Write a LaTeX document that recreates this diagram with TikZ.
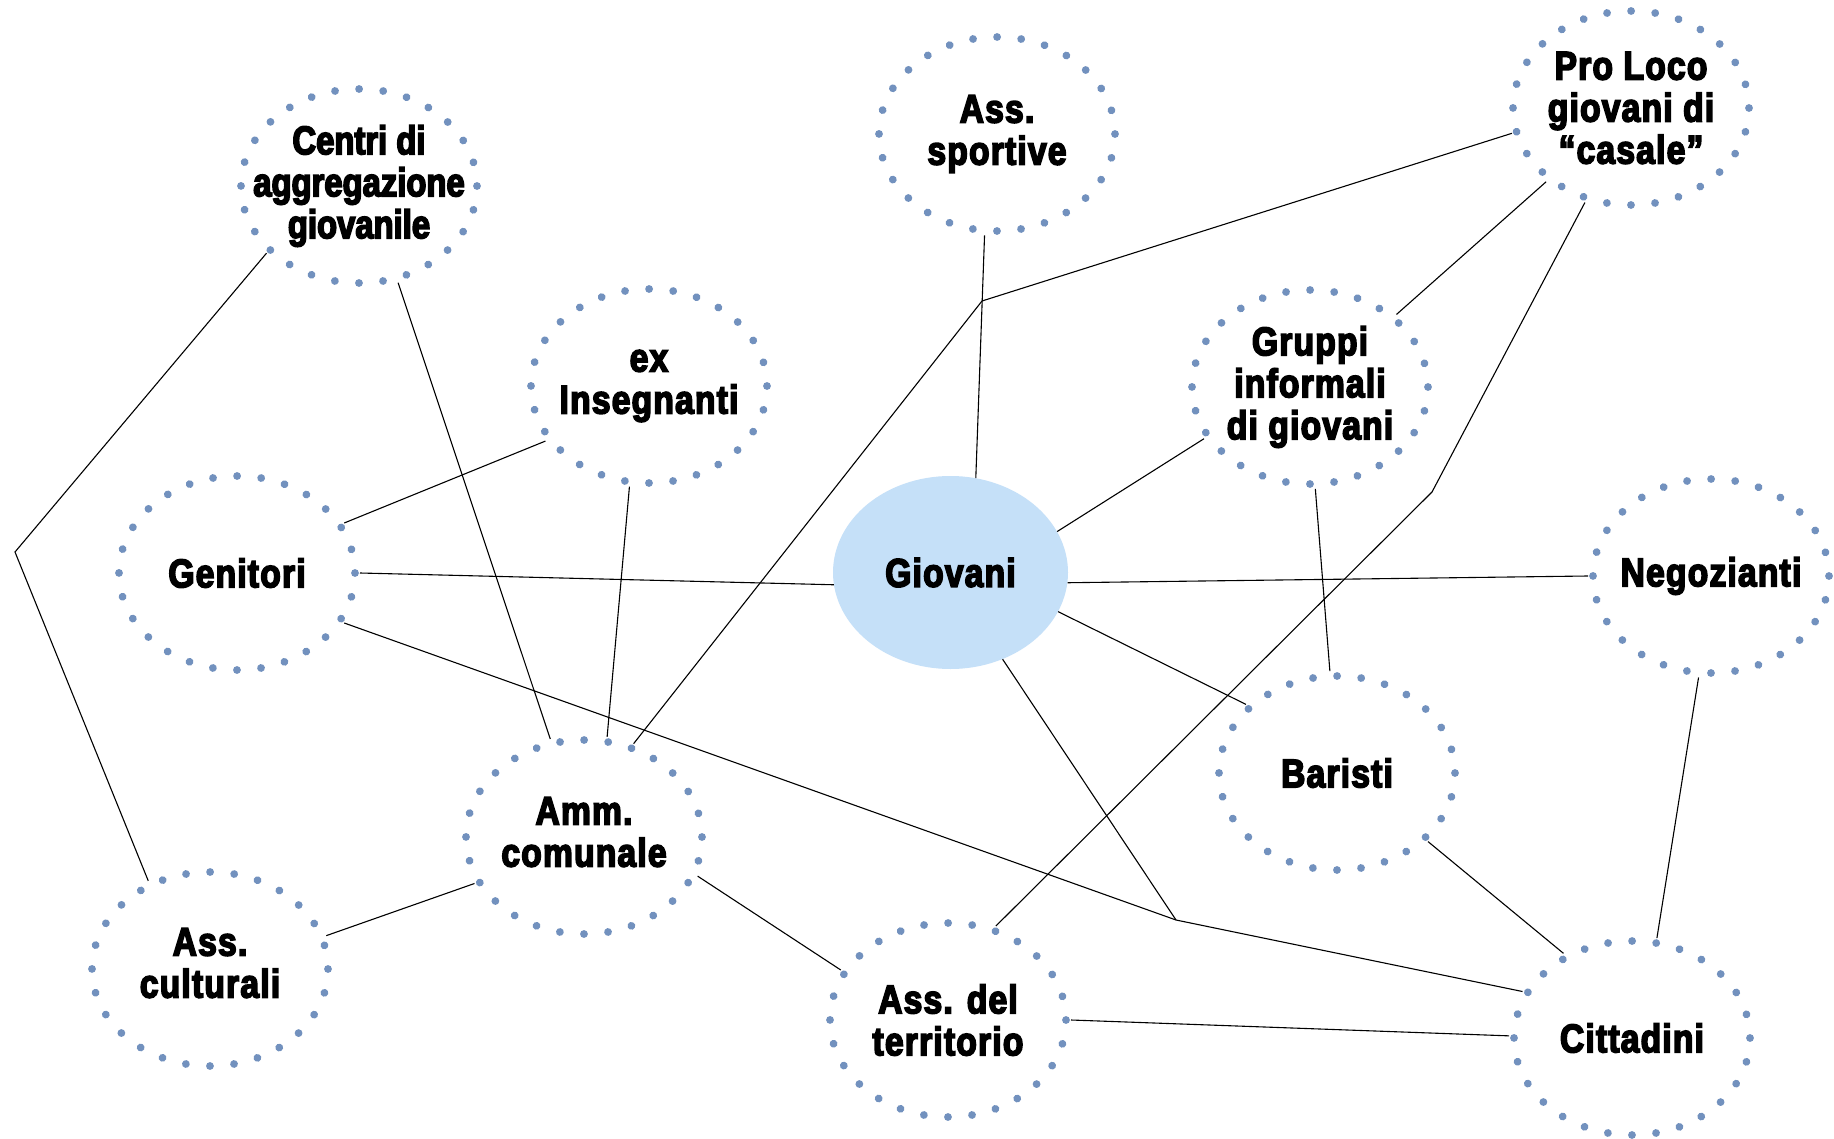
\documentclass[tikz,border=0pt]{standalone}
\usepackage{fontspec}
\newfontfamily\lblfont{Liberation Sans Bold}[FakeStretch=0.84,FakeBold=4,LetterSpace=3]
\newfontfamily\lblfonttight{Liberation Sans Bold}[FakeStretch=0.82,FakeBold=4]
\usetikzlibrary{shapes.geometric,decorations.markings}
\definecolor{dotblue}{RGB}{114,145,190}
\definecolor{youthfill}{RGB}{197,224,248}

\begin{document}
\begin{tikzpicture}[x=1pt,y=-1pt,
  ring/.style={ellipse, minimum width=236pt, minimum height=194pt,
    inner sep=0pt, outer sep=5pt},
  dotring/.style={decorate, decoration={markings,
    mark=between positions 0 and 0.99 step 0.0357142857 with
      {\fill[dotblue] (0,0) circle (3.9pt);}}},
  lbl/.style={align=center, text=black, inner sep=0pt,
    font=\lblfont\fontsize{40}{42}\selectfont},
  lbltight/.style={lbl, font=\lblfonttight\fontsize{40}{42}\selectfont},
  link/.style={line width=1.1pt, black}]

% canvas
\fill[white] (0,0) rectangle (1834,1139);
\useasboundingbox (0,0) rectangle (1834,1139);

% central node
\node[ellipse, fill=youthfill, minimum width=235pt, minimum height=193pt,
      inner sep=0pt] (giovani) at (950.5,572.5) {};
\node[lbl] (giovani-t) at (giovani) {Giovani};

% surrounding groups
\node[ring] (centri)  at (359,186)  {};
\node[ring] (sport)   at (997,134)  {};
\node[ring] (proloco) at (1631,108) {};
\node[ring] (insegn)  at (649,386)  {};
\node[ring] (gruppi)  at (1310,387) {};
\node[ring] (genit)   at (237,573)  {};
\node[ring] (negoz)   at (1711,576) {};
\node[ring] (baristi) at (1337,773) {};
\node[ring] (amm)     at (584,837)  {};
\node[ring] (cultur)  at (210,969)  {};
\node[ring] (territ)  at (948,1020) {};
\node[ring] (cittad)  at (1632,1038){};

% dotted outlines
\foreach \n in {centri,sport,proloco,insegn,gruppi,genit,negoz,baristi,amm,cultur,territ,cittad}
  \path[dotring] (\n.center) ellipse (118 and 97);

% labels
\node[lbltight] (centri-t) at (centri) {Centri di\\aggregazione\\giovanile};
\node[lbl] (sport-t)   at (sport)   {Ass.\\sportive};
\node[lbl] (proloco-t) at (proloco) {Pro Loco\\giovani di\\“casale”};
\node[lbl] (insegn-t)  at (insegn)  {ex\\Insegnanti};
\node[lbl] (gruppi-t)  at (gruppi)  {Gruppi\\informali\\di giovani};
\node[lbl] (genit-t)   at (genit)   {Genitori};
\node[lbl] (negoz-t)   at (negoz)   {Negozianti};
\node[lbl] (baristi-t) at (baristi) {Baristi};
\node[lbl] (amm-t)     at ([yshift=5pt]amm.center)    {Amm.\\comunale};
\node[lbl] (cultur-t)  at ([yshift=6pt]cultur.center) {Ass.\\culturali};
\node[lbl] (territ-t)  at (territ)  {Ass. del\\territorio};
\node[lbl] (cittad-t)  at (cittad)  {Cittadini};

% bend points
\coordinate (kleft) at (15,552);
\coordinate (ktop)  at (982,301);
\coordinate (kright) at (1432,492);
\coordinate (kmid)  at (1176,920);

% connections
\draw[link] (centri.-144.6) -- (kleft) -- (cultur.125);
\draw[link] (centri.-68.9) -- (amm.109.1);
\draw[link] (insegn.-152.7) -- (genit.25.9);
\draw[link] (insegn.-101.4) -- (amm.77.8);
\draw[link] (genit.0) -- (giovani.-174.4);
\draw[link] (genit.-25.5) -- (kmid) -- (cittad.157.6);
\draw[link] (giovani.-59) -- (kmid);
\draw[link] (sport.-97.3) -- (giovani.75.8);
\draw[link] (proloco.-168.3) -- (ktop) -- (amm.62.2);
\draw[link] (proloco.-139.1) -- (gruppi.40.8);
\draw[link] (proloco.-116.3) -- (kright) -- (territ.63);
\draw[link] (gruppi.-154.7) -- (giovani.21.8);
\draw[link] (gruppi.-87.5) -- (baristi.94.6);
\draw[link] (giovani.-5.5) -- (negoz.180.9);
\draw[link] (giovani.-20.6) -- (baristi.143.3);
\draw[link] (negoz.-97.9) -- (cittad.76.4);
\draw[link] (baristi.-37.5) -- (cittad.129.6);
\draw[link] (amm.-157.1) -- (cultur.16.3);
\draw[link] (amm.-19.4) -- (territ.155.2);
\draw[link] (territ.-0.5) -- (cittad.179.5);

\end{tikzpicture}
\end{document}
